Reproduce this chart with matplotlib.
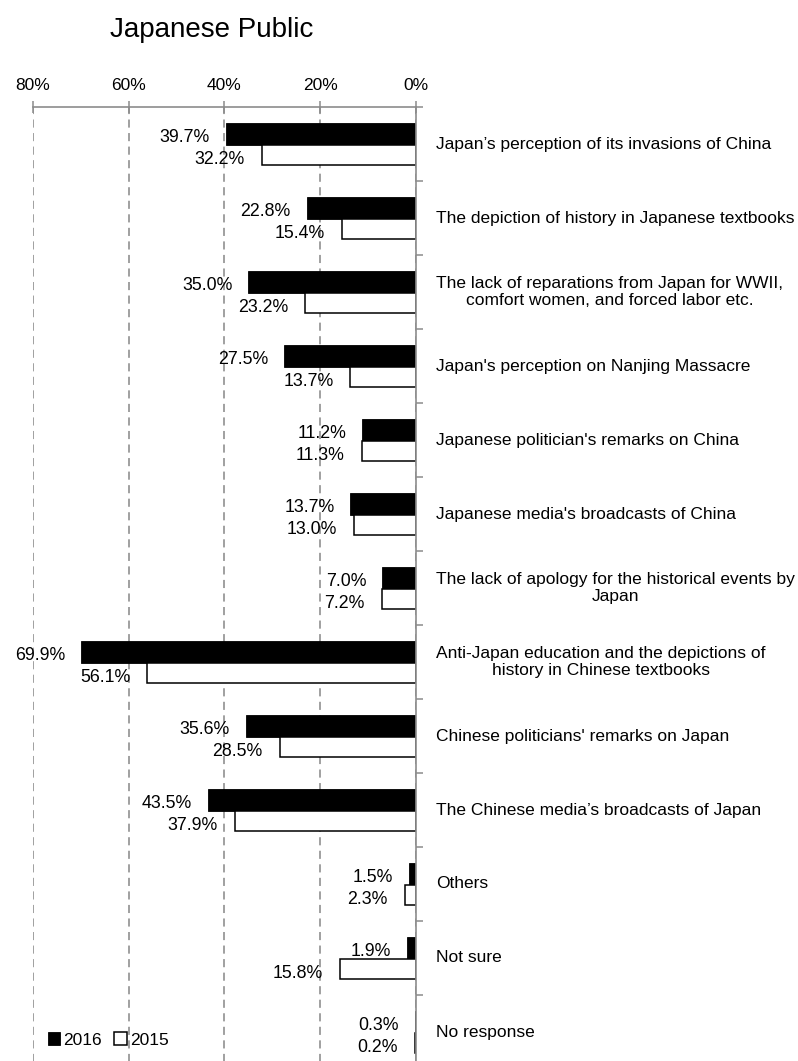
import numpy as np
import matplotlib
matplotlib.use("Agg")
import matplotlib.pyplot as plt
import matplotlib.transforms as mtransforms

plt.rcParams['font.family'] = ['Liberation Sans', 'DejaVu Sans']

categories = [
    "Japan\u2019s perception of its invasions of China",
    "The depiction of history in Japanese textbooks",
    "The lack of reparations from Japan for WWII,\ncomfort women, and forced labor etc.",
    "Japan's perception on Nanjing Massacre",
    "Japanese politician's remarks on China",
    "Japanese media's broadcasts of China",
    "The lack of apology for the historical events by\nJapan",
    "Anti-Japan education and the depictions of\nhistory in Chinese textbooks",
    "Chinese politicians' remarks on Japan",
    "The Chinese media\u2019s broadcasts of Japan",
    "Others",
    "Not sure",
    "No response",
]
values_2016 = [39.7, 22.8, 35.0, 27.5, 11.2, 13.7, 7.0, 69.9, 35.6, 43.5, 1.5, 1.9, 0.3]
values_2015 = [32.2, 15.4, 23.2, 13.7, 11.3, 13.0, 7.2, 56.1, 28.5, 37.9, 2.3, 15.8, 0.2]
x_ticks = [80, 60, 40, 20, 0]
x_ticklabels = ["80%", "60%", "40%", "20%", "0%"]
title = "Japanese Public"

W, H = 798, 1061
fig = plt.figure(figsize=(W / 100, H / 100), dpi=100)
ax = fig.add_axes([33 / W, (H - 1069) / H, 383 / W, 962 / H])

n = len(categories)
y = np.arange(n)
gray = '#8c8c8c'

b16 = ax.barh(y - 0.137, values_2016, height=0.30, color='black',
              edgecolor='black', linewidth=0.6, label='2016', zorder=3)
b15 = ax.barh(y + 0.150, values_2015, height=0.27, color='white',
              edgecolor='black', linewidth=1.1, label='2015', zorder=3)

ax.set_xlim(80, 0)
ax.set_ylim(n - 0.5, -0.5)

for s in ['left', 'bottom']:
    ax.spines[s].set_visible(False)
for s in ['top', 'right']:
    ax.spines[s].set_color(gray)
    ax.spines[s].set_linewidth(1.2)
    ax.spines[s].set_zorder(4)

ax.xaxis.tick_top()
ax.set_xticks(x_ticks)
ax.set_xticklabels(x_ticklabels)
ax.tick_params(axis='x', direction='inout', length=8.5, width=1.1, color=gray,
               pad=5.5, labelsize=12.5)
ax.grid(axis='x', color='#999999', linestyle=(0, (4.5, 3)), linewidth=1.3, zorder=1)
ax.set_axisbelow(True)

ax.yaxis.tick_right()
ax.set_yticks([])
ax.set_yticks(np.arange(-0.5, n, 1.0), minor=True)
ax.tick_params(axis='y', which='minor', direction='out', length=5, width=1.1,
               color=gray, labelright=False)

trans = mtransforms.blended_transform_factory(ax.transAxes, ax.transData)
for i, c in enumerate(categories):
    ax.text(1 + 20 / 383, i, c, transform=trans, ha='left', va='center',
            multialignment='center', fontsize=12.5, linespacing=1.2)

for i in range(n):
    ax.annotate(f"{values_2016[i]:.1f}%", xy=(values_2016[i], i - 0.137),
                xytext=(-16, -4), textcoords='offset pixels',
                ha='right', va='center', fontsize=12.8, zorder=5)
    ax.annotate(f"{values_2015[i]:.1f}%", xy=(values_2015[i], i + 0.150),
                xytext=(-17, -4), textcoords='offset pixels',
                ha='right', va='center', fontsize=12.8, zorder=5)

fig.text(110 / W, 1 - 37 / H, title, fontsize=20, ha='left', va='baseline')

fig.legend(handles=[b16, b15], labels=['2016', '2015'], loc='center left',
           bbox_to_anchor=(48 / W, 1 - 1040 / H), ncol=2, handlelength=0.7,
           handleheight=0.7, handletextpad=0.2, columnspacing=0.7,
           frameon=False, fontsize=12.5, borderpad=0, borderaxespad=0)

fig.savefig('out.png', dpi=100)
